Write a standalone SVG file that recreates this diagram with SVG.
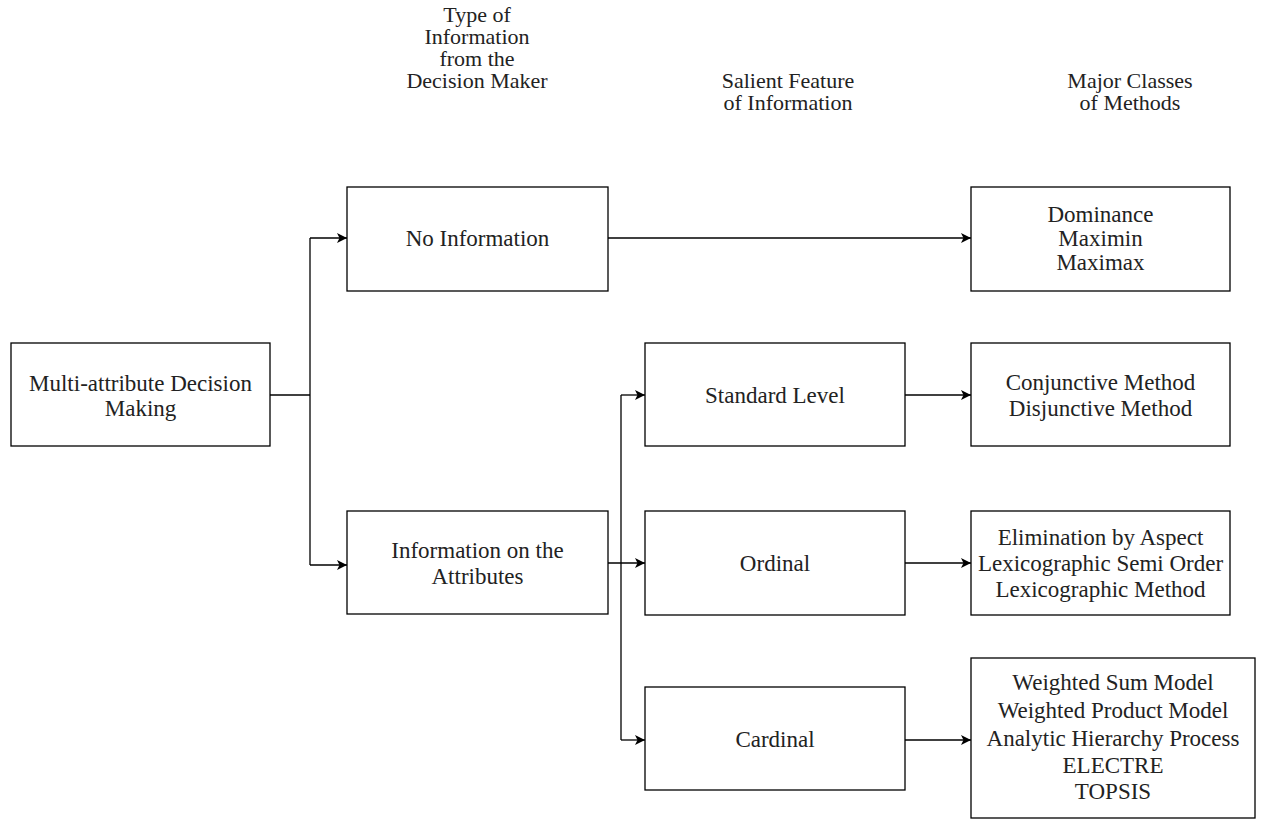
<svg xmlns="http://www.w3.org/2000/svg" width="1261" height="819" viewBox="0 0 1261 819">
<defs>
<marker id="arr" viewBox="0 0 10 10" refX="10" refY="5" markerWidth="10" markerHeight="10" markerUnits="userSpaceOnUse" orient="auto">
<path d="M0,0 L10,5 L0,10 L2.5,5 Z" fill="#000"/>
</marker>
</defs>
<style>
.box{fill:#fff;stroke:#000;stroke-width:1.3}
text{font-family:'Liberation Serif','Times New Roman','DejaVu Serif',serif;font-size:23px;fill:#222;text-anchor:middle}
.h{font-size:22px}
.c{fill:none;stroke:#000;stroke-width:1.3}
</style>
<rect width="1261" height="819" fill="#fff"/>
<g id="headers">
<text class="h" x="477" y="22">Type of</text>
<text class="h" x="477" y="44">Information</text>
<text class="h" x="477" y="66">from the</text>
<text class="h" x="477" y="88">Decision Maker</text>
<text class="h" x="788" y="88">Salient Feature</text>
<text class="h" x="788" y="110">of Information</text>
<text class="h" x="1130" y="88">Major Classes</text>
<text class="h" x="1130" y="110">of Methods</text>
</g>
<g id="connectors">
<path class="c" d="M270,395 H310"/>
<path class="c" d="M310,238 V565"/>
<path class="c" d="M310,238 H347" marker-end="url(#arr)"/>
<path class="c" d="M310,565 H347" marker-end="url(#arr)"/>
<path class="c" d="M608,238 H971" marker-end="url(#arr)"/>
<path class="c" d="M608,563 H645" marker-end="url(#arr)"/>
<path class="c" d="M621,395 V740"/>
<path class="c" d="M621,395 H645" marker-end="url(#arr)"/>
<path class="c" d="M621,740 H645" marker-end="url(#arr)"/>
<path class="c" d="M905,395 H971" marker-end="url(#arr)"/>
<path class="c" d="M905,563 H971" marker-end="url(#arr)"/>
<path class="c" d="M905,740 H971" marker-end="url(#arr)"/>
</g>
<g id="madm">
<rect class="box" x="11" y="343" width="259" height="103"/>
<text x="140.5" y="391">Multi-attribute Decision</text>
<text x="140.5" y="416">Making</text>
</g>
<g id="no-info">
<rect class="box" x="347" y="187" width="261" height="104"/>
<text x="477.5" y="246">No Information</text>
</g>
<g id="info-attr">
<rect class="box" x="347" y="511" width="261" height="103"/>
<text x="477.5" y="558">Information on the</text>
<text x="477.5" y="584">Attributes</text>
</g>
<g id="standard">
<rect class="box" x="645" y="343" width="260" height="103"/>
<text x="775" y="403">Standard Level</text>
</g>
<g id="ordinal">
<rect class="box" x="645" y="511" width="260" height="104"/>
<text x="775" y="571">Ordinal</text>
</g>
<g id="cardinal">
<rect class="box" x="645" y="687" width="260" height="103"/>
<text x="775" y="747">Cardinal</text>
</g>
<g id="dominance">
<rect class="box" x="971" y="187" width="259" height="104"/>
<text x="1100.5" y="222">Dominance</text>
<text x="1100.5" y="246">Maximin</text>
<text x="1100.5" y="270">Maximax</text>
</g>
<g id="conjunctive">
<rect class="box" x="971" y="343" width="259" height="103"/>
<text x="1100.5" y="390">Conjunctive Method</text>
<text x="1100.5" y="416">Disjunctive Method</text>
</g>
<g id="elimination">
<rect class="box" x="971" y="511" width="259" height="104"/>
<text x="1100.5" y="545">Elimination by Aspect</text>
<text x="1100.5" y="571">Lexicographic Semi Order</text>
<text x="1100.5" y="597">Lexicographic Method</text>
</g>
<g id="cardinal-methods">
<rect class="box" x="971" y="658" width="284" height="160"/>
<text x="1113" y="690">Weighted Sum Model</text>
<text x="1113" y="718">Weighted Product Model</text>
<text x="1113" y="746">Analytic Hierarchy Process</text>
<text x="1113" y="773">ELECTRE</text>
<text x="1113" y="799">TOPSIS</text>
</g>
</svg>
